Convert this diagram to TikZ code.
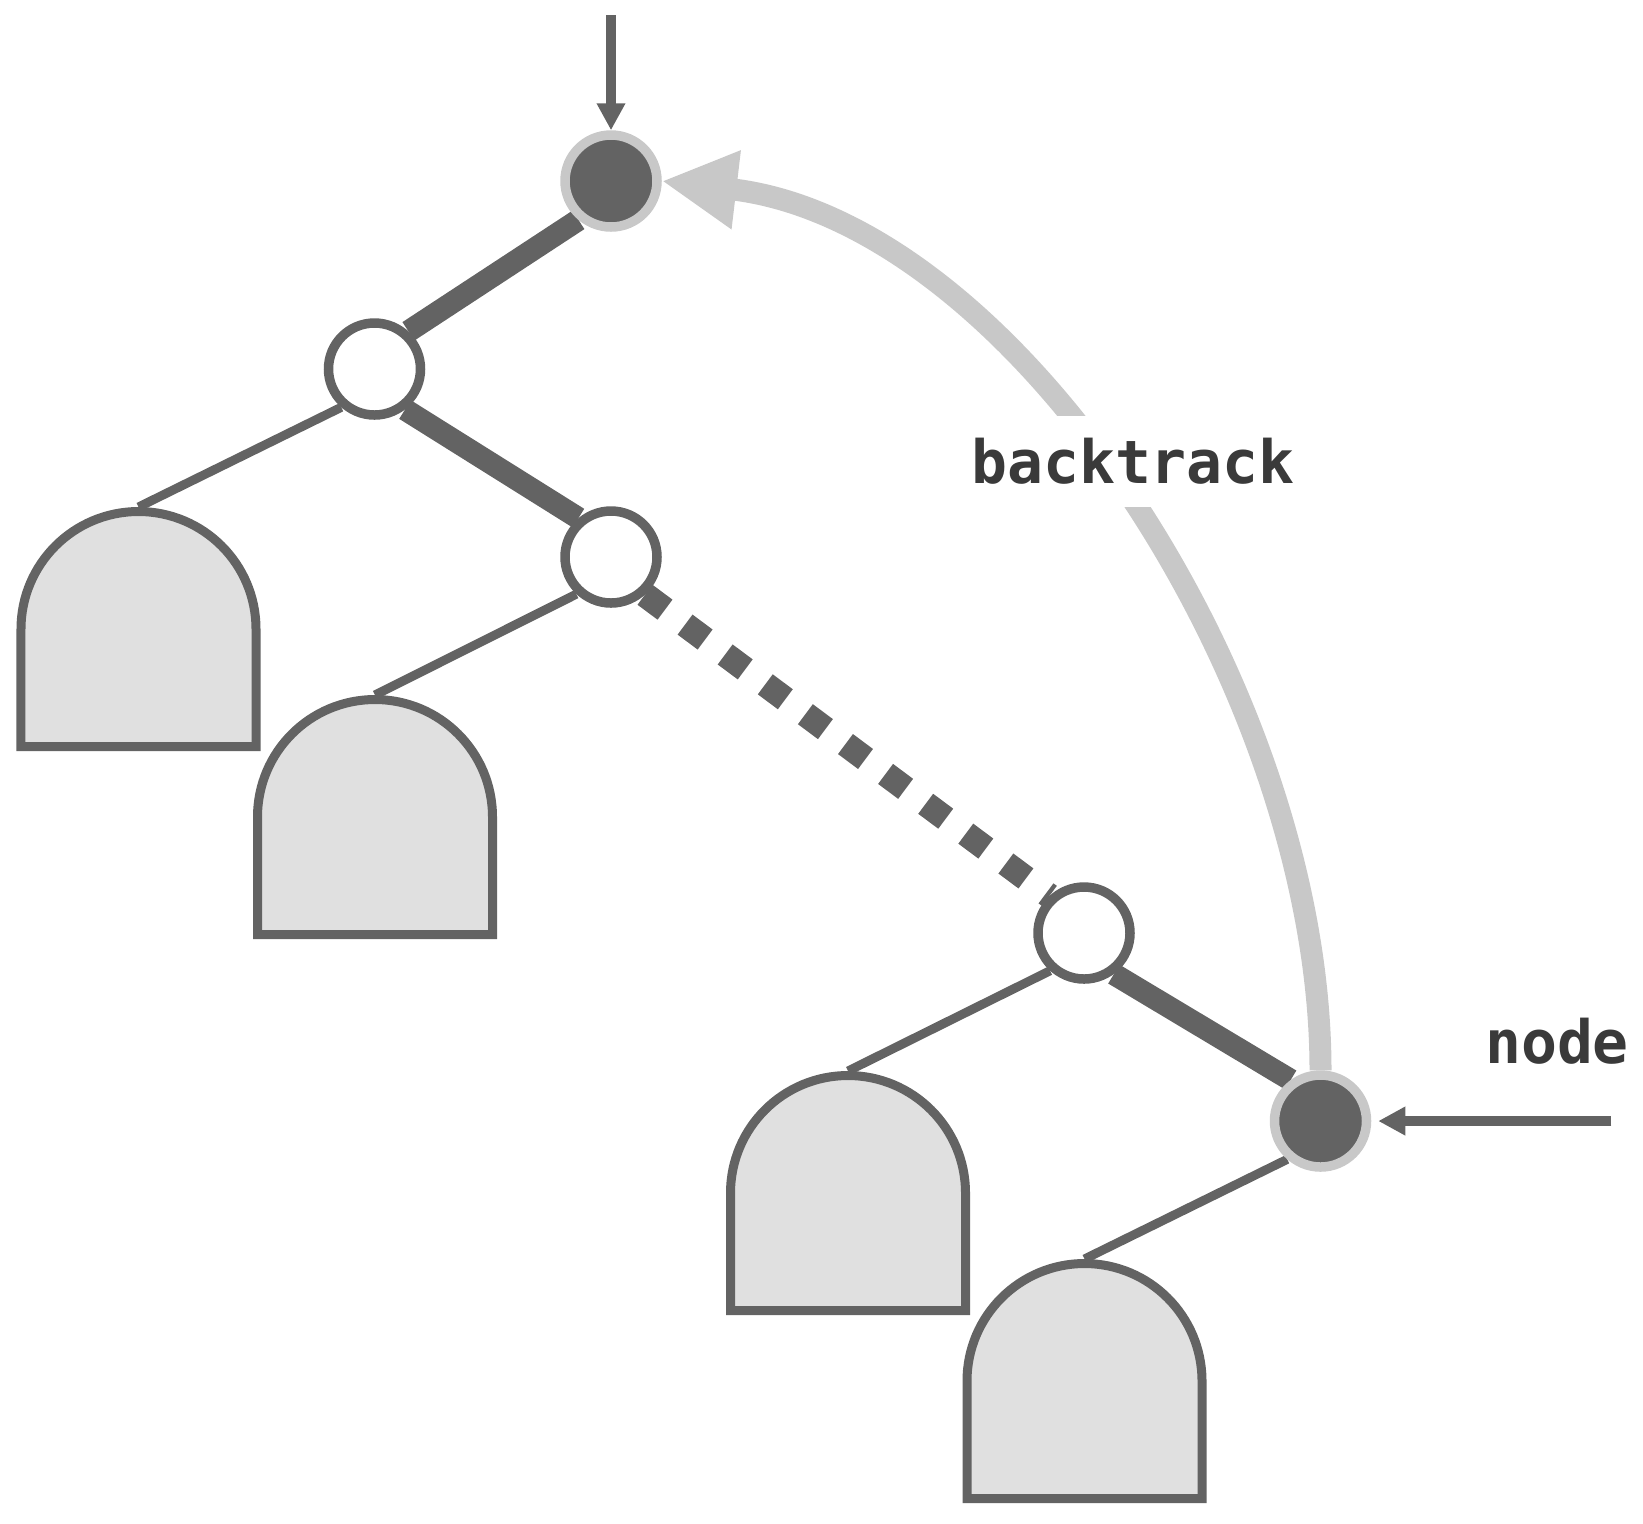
\documentclass[tikz,border=0pt]{standalone}
\usepackage{fontspec}
\newfontfamily\labelfont{DejaVu Sans Mono}
\usepackage{xcolor}
\usepackage{tikz}
\usetikzlibrary{arrows.meta, positioning, backgrounds, calc}

\definecolor{inkgray}{HTML}{636363}
\definecolor{ringgray}{HTML}{C8C8C8}
\definecolor{leafgray}{HTML}{E0E0E0}
\definecolor{textgray}{HTML}{3A3A3A}

\begin{document}
\begin{tikzpicture}[on grid, auto]
        \tikzset{
            open/.style={circle, draw=inkgray, fill=white, line width=0.095cm, minimum size=0.92cm, inner sep=0pt},
            cur/.style={circle, draw=ringgray, fill=inkgray, line width=0.095cm, minimum size=0.92cm, inner sep=0pt},
            trail/.style={draw=inkgray, line width=0.22cm},
            leafedge/.style={draw=inkgray, line width=0.09cm},
            skipped/.style={draw=inkgray, line width=0.25cm, dash pattern=on 0.25cm off 0.25cm},
            pointer/.style={draw=inkgray, line width=0.095cm, -{Triangle[length=0.27cm, width=0.27cm]}},
            backarc/.style={draw=ringgray, line width=0.22cm, -{Triangle[length=0.75cm, width=0.74cm]}},
            tag/.style={font=\labelfont\bfseries\fontsize{17}{20}\selectfont, text=textgray},
            subtree/.pic={
                \draw[draw=inkgray, fill=leafgray, line width=0.09cm]
                    (-1.175,-2.395) -- (-1.175,-1.22) arc[start angle=180, end angle=0, radius=1.175]
                    -- (1.175,-2.395) -- cycle;
            }
        }
        \useasboundingbox (0,0) rectangle (16.43,-15.23);

        % path from the root down to the current node
        \node[cur] (root) at (6.11,-1.81) {};
        \node[open, below left=1.88cm and 2.365cm of root] (c1) {};
        \node[open, below right=1.88cm and 2.365cm of c1] (c2) {};
        \node[open, below right=3.76cm and 4.73cm of c2] (c3) {};
        \node[cur, below right=1.88cm and 2.365cm of c3] (nd) {};

        % left subtrees
        \coordinate[below left=1.38cm and 2.36cm of c1] (t1);
        \coordinate[below left=1.38cm and 2.36cm of c2] (t2);
        \coordinate[below left=1.38cm and 2.36cm of c3] (t3);
        \coordinate[below left=1.38cm and 2.36cm of nd] (t4);
        \pic at (t1) {subtree};
        \pic at (t2) {subtree};
        \pic at (t3) {subtree};
        \pic at (t4) {subtree};

        \coordinate (entry) at (6.11,-0.15);
        \coordinate[right=2.4cm of nd.east] (hook);

        \begin{scope}[on background layer]
            \draw[trail] (root.230) -- (c1.48);
            \draw[trail] (c1.-53) -- (c2.130);
            \draw[skipped] (c2.-48) -- (c3.133);
            \draw[trail] (c3.-54) -- (nd.126);

            \draw[leafedge] (c1.229) -- (t1);
            \draw[leafedge] (c2.227) -- (t2);
            \draw[leafedge] (c3.228) -- (t3);
            \draw[leafedge] (nd.229) -- (t4);

            \draw[pointer] (entry) -- (root.north);
            \draw[pointer, shorten >=0.07cm] (hook) -- (nd.east);
            \draw[backarc] (nd.north) .. controls +(0,3.79) and +(3.555,-0.42) .. (root.east);
        \end{scope}

        \node[tag, fill=white, inner sep=0.22cm] (bt) at (11.33,-4.615) {backtrack};
        \node[tag] (ndlabel) at (15.57,-10.41) {node};

    \end{tikzpicture}
\end{document}
